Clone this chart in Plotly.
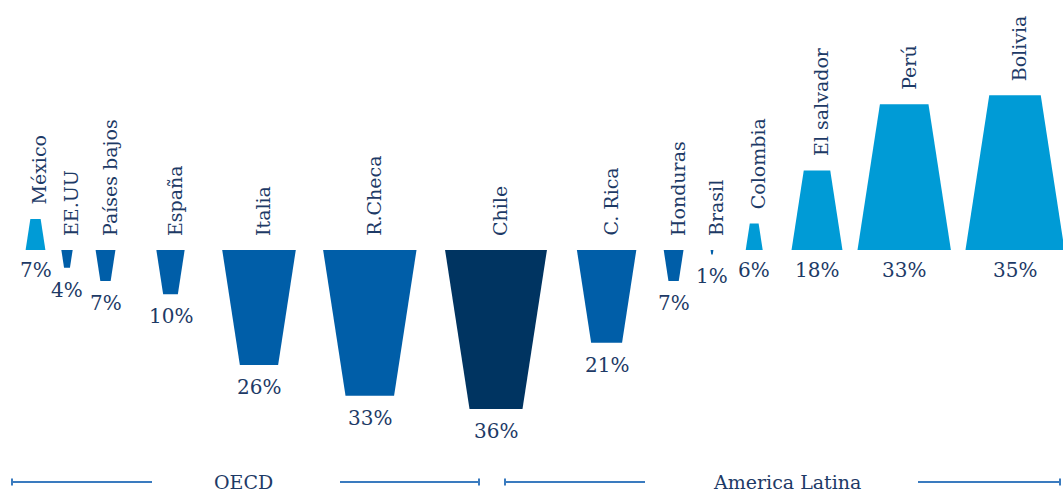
import plotly.graph_objects as go

# Share of each country (percent), drawn as tapered bars above or below a baseline
countries = ["México", "EE.UU", "Países bajos", "España", "Italia", "R.Checa", "Chile",
             "C. Rica", "Honduras", "Brasil", "Colombia", "El salvador", "Perú", "Bolivia"]
values = [7, 4, 7, 10, 26, 33, 36, 21, 7, 1, 6, 18, 33, 35]
direction = [1, -1, -1, -1, -1, -1, -1, -1, -1, -1, 1, 1, 1, 1]
groups = ["OECD", "America Latina"]

# Layout: horizontal slot centre of each country (pixels across the canvas)
SLOT_X = [35.5, 67, 105.5, 170.5, 259, 369.8, 496, 606.6, 673.6, 712, 754.2, 817, 904.2, 1015]

W, H = 1063, 494
BASELINE_PX = 250           # baseline distance from the top edge
PX_PER_PCT_H = 4.42         # vertical pixels per percentage point
PX_PER_PCT_W = 2.83         # base width in pixels per percentage point
TIP_RATIO = 0.52            # far end width relative to base width

LIGHT = "#009bd6"
MID = "#005ea8"
DARK = "#003461"
TEXT = "#1d3a66"
RULE = "#3a7bbf"
FONT = "DejaVu Serif"

fig = go.Figure()

for name, v, d, cx in zip(countries, values, direction, SLOT_X):
    base = PX_PER_PCT_W * v
    tip = base * TIP_RATIO
    if d > 0:
        colour = LIGHT
    elif name == "Chile":
        colour = DARK
    else:
        colour = MID
    fig.add_trace(go.Scatter(
        x=[cx - base / 2, cx + base / 2, cx + tip / 2, cx - tip / 2, cx - base / 2],
        y=[0, 0, d * v, d * v, 0],
        mode="none", fill="toself", fillcolor=colour,
        hoverinfo="skip", showlegend=False,
    ))
    # country name, rotated, above the bar (or above the baseline for downward bars)
    fig.add_annotation(
        x=cx, y=v if d > 0 else 0, xref="x", yref="y",
        text=name, textangle=-90, showarrow=False,
        xanchor="center", yanchor="bottom", yshift=12, xshift=4,
        font=dict(family=FONT, size=19, color=TEXT),
    )
    # value label below the baseline or below the tip
    fig.add_annotation(
        x=cx, y=0 if d > 0 else -v, xref="x", yref="y",
        text=f"{v}%", showarrow=False,
        xanchor="center", yanchor="middle", yshift=-20 if d > 0 else -22,
        font=dict(family=FONT, size=20, color=TEXT),
    )

# Group brackets along the bottom
RULE_Y = 1 - 482 / H
brackets = [
    (12, 152, 340, 479, 243.5),
    (505, 645, 918, 1060, 787),
]
for label, (l0, l1, r0, r1, tx) in zip(groups, brackets):
    for x0, x1 in ((l0, l1), (r0, r1)):
        fig.add_shape(type="line", xref="x", yref="paper", x0=x0, x1=x1,
                      y0=RULE_Y, y1=RULE_Y, line=dict(color=RULE, width=2))
    for xt in (l0, r1):
        fig.add_shape(type="line", xref="x", yref="paper", x0=xt, x1=xt,
                      y0=RULE_Y - 3.5 / H, y1=RULE_Y + 3.5 / H,
                      line=dict(color=RULE, width=2))
    fig.add_annotation(x=tx, y=RULE_Y, xref="x", yref="paper", text=label,
                       showarrow=False, xanchor="center", yanchor="middle",
                       font=dict(family=FONT, size=19, color=TEXT))

fig.update_layout(
    width=W, height=H,
    margin=dict(l=0, r=0, t=0, b=0),
    paper_bgcolor="white", plot_bgcolor="white",
    xaxis=dict(range=[0, W], visible=False, fixedrange=True),
    yaxis=dict(range=[-(H - BASELINE_PX) / PX_PER_PCT_H, BASELINE_PX / PX_PER_PCT_H],
               visible=False, fixedrange=True),
)

fig.write_html("out.html", config={"displayModeBar": False})
